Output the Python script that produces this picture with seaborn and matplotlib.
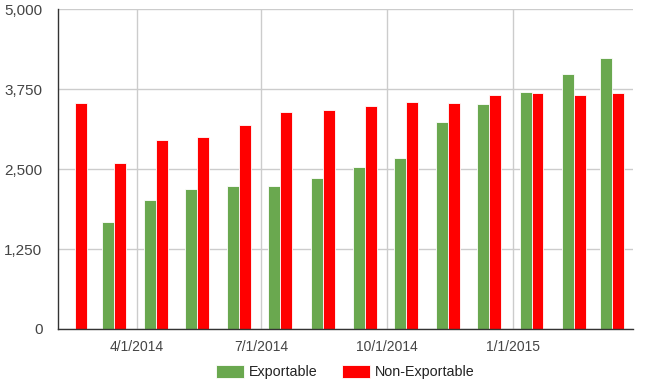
import matplotlib
matplotlib.use("Agg")
import matplotlib.pyplot as plt
import matplotlib.dates as mdates
import seaborn as sns
import pandas as pd
import numpy as np

months = ["2014-02-15", "2014-03-15", "2014-04-15", "2014-05-15", "2014-06-15",
          "2014-07-15", "2014-08-15", "2014-09-15", "2014-10-15", "2014-11-15",
          "2014-12-15", "2015-01-15", "2015-02-15", "2015-03-15"]
exportable = [0, 1673, 2018, 2190, 2237, 2237, 2362, 2534, 2674, 3237, 3519, 3707, 3988, 4238]
non_exportable = [3535, 2596, 2956, 3008, 3191, 3394, 3425, 3488, 3550, 3535, 3660, 3691, 3660, 3691]
series_names = ["Exportable", "Non-Exportable"]
tick_dates = ["2014-04-01", "2014-07-01", "2014-10-01", "2015-01-01"]
tick_labels = ["4/1/2014", "7/1/2014", "10/1/2014", "1/1/2015"]
y_ticks = [0, 1250, 2500, 3750, 5000]
y_tick_labels = ["0", "1,250", "2,500", "3,750", "5,000"]
colors = ["#6aa84f", "#ff0000"]

xnum = [mdates.datestr2num(m) for m in months]
df = pd.DataFrame({
    "x": xnum * 2,
    "value": exportable + non_exportable,
    "series": [series_names[0]] * len(months) + [series_names[1]] * len(months),
})

sns.set_style("white")
plt.rcParams["font.family"] = ["Liberation Sans", "DejaVu Sans"]

fig = plt.figure(figsize=(6.48, 3.84), dpi=100)
ax = fig.add_axes([57.7 / 648, 1 - 329 / 384, (632.7 - 57.7) / 648, (329 - 9.3) / 384])

sns.barplot(data=df, x="x", y="value", hue="series", native_scale=True,
            palette=colors, width=0.62, ax=ax, edgecolor="white", linewidth=0.6,
            saturation=1, errorbar=None, legend=True)

x0 = mdates.datestr2num("2014-04-01") - 58.0
x1 = mdates.datestr2num("2015-01-01") + 88.0
ax.set_xlim(x0, x1)
ax.set_ylim(0, 5000)

ax.set_xticks([mdates.datestr2num(t) for t in tick_dates])
ax.set_xticklabels(tick_labels)
ax.set_yticks(y_ticks)
ax.set_yticklabels(y_tick_labels)
ax.tick_params(axis="both", length=0, colors="#444444")
ax.tick_params(axis="x", pad=8, labelsize=10)
ax.tick_params(axis="y", pad=11, labelsize=11)
ax.set_xlabel("")
ax.set_ylabel("")

ax.grid(True, color="#cccccc", linewidth=1)
ax.set_axisbelow(True)
for s in ["top", "right"]:
    ax.spines[s].set_visible(False)
ax.spines["left"].set_color("#333333")
ax.spines["bottom"].set_color("#333333")
ax.spines["left"].set_linewidth(1)
ax.spines["bottom"].set_linewidth(1)

handles, labels = ax.get_legend_handles_labels()
ax.legend(handles, labels, loc="upper center", bbox_to_anchor=(0.5, -0.072),
          ncol=2, frameon=False, fontsize=10.3, handlelength=1.96, handleheight=1.0,
          columnspacing=1.68, handletextpad=0.35, labelcolor="#222222")

fig.savefig("out.png", dpi=100)
